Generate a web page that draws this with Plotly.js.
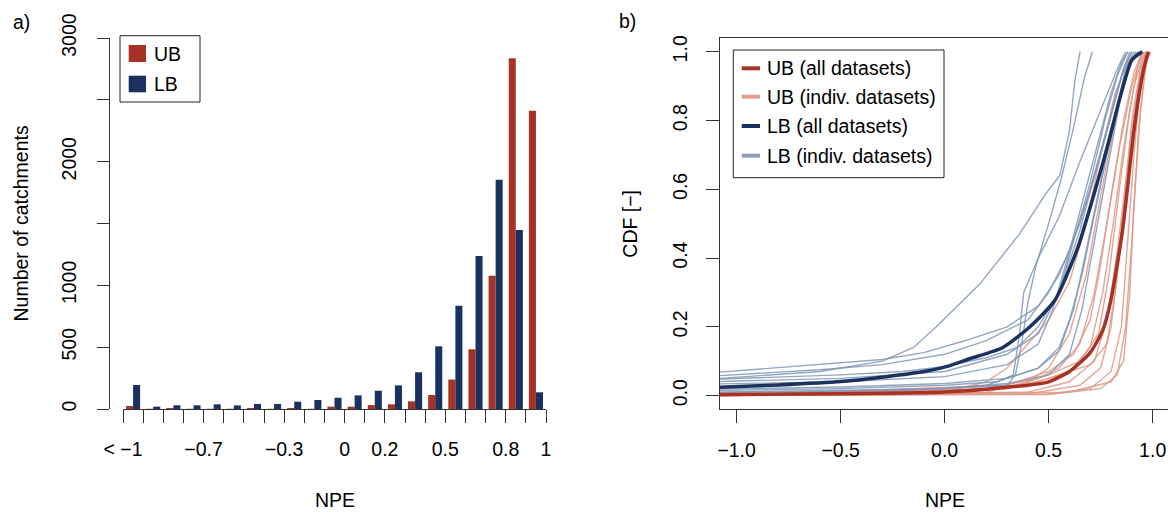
<!DOCTYPE html>
<html><head><meta charset="utf-8">
<script src="https://cdn.plot.ly/plotly-3.0.1.min.js"></script>
<style>html,body{margin:0;padding:0;overflow:hidden;background:#fff}#chart{width:1172px;height:512px}</style>
</head><body><div id="chart"></div>
<script>
// ---------- Panel a: histogram of NPE ----------
const binCenters = [-1.05,-0.95,-0.85,-0.75,-0.65,-0.55,-0.45,-0.35,-0.25,-0.15,-0.05,0.05,0.15,0.25,0.35,0.45,0.55,0.65,0.75,0.85,0.95];
const ubCounts = [24,2,8,2,2,2,8,2,8,2,19,19,32,38,62,113,238,483,1078,2836,2412];
const lbCounts = [194,19,30,30,38,29,41,41,59,73,91,110,148,191,297,507,835,1237,1854,1447,135];
const histTickPos = [-1.1,-1.0,-0.9,-0.8,-0.7,-0.6,-0.5,-0.4,-0.3,-0.2,-0.1,0.0,0.1,0.2,0.3,0.4,0.5,0.6,0.7,0.8,0.9,1.0];
const histTickLabels = ['< \u22121','','','','\u22120.7','','','','\u22120.3','','','0','','0.2','','','0.5','','','0.8','','1'];
const countTicks = [0,500,1000,1500,2000,2500,3000];
const countTickLabels = ['0','500','1000','','2000','','3000'];

// ---------- Panel b: CDF curves (x = NPE, y = CDF) ----------
const ubAllX = [-1.08,-0.5,0.0,0.2,0.3,0.4,0.5,0.6,0.7,0.76,0.8,0.855,0.91,0.947,0.97,0.98];
const ubAllY = [0.003,0.005,0.01,0.018,0.024,0.03,0.04,0.07,0.125,0.19,0.28,0.48,0.77,0.92,0.98,1.0];
const lbAllX = [-1.08,-0.8,-0.5,-0.28,-0.1,0.026,0.12,0.28,0.41,0.53,0.64,0.72,0.785,0.84,0.9,0.95];
const lbAllY = [0.024,0.031,0.041,0.055,0.07,0.087,0.107,0.14,0.2,0.277,0.43,0.59,0.73,0.86,0.976,1.0];

const lbIndivX = [
  [-1.08,-0.6,-0.3,-0.15,-0.04,0.17,0.36,0.49,0.554,0.6,0.627,0.651],
  [-1.08,-0.5,0.0,0.3,0.34,0.37,0.4,0.44,0.5,0.56,0.62,0.67,0.71],
  [-1.08,-0.6,-0.3,-0.1,0.1,0.3,0.45,0.55,0.65,0.75,0.82,0.86,0.9],
  [-1.08,-0.6,-0.3,0.0,0.2,0.4,0.5,0.6,0.7,0.78,0.85,0.89],
  [-1.08,-0.5,-0.2,0.0,0.2,0.35,0.45,0.55,0.65,0.73,0.8,0.86,0.9],
  [-1.08,-0.5,0.0,0.3,0.45,0.55,0.62,0.7,0.77,0.83,0.88],
  [-1.08,-0.5,0.0,0.3,0.45,0.52,0.6,0.67,0.74,0.8,0.85,0.88],
  [-1.08,-0.5,0.0,0.3,0.45,0.55,0.62,0.68,0.75,0.82,0.87,0.91],
  [-1.08,-0.5,0.0,0.25,0.33,0.36,0.38,0.45,0.55,0.65,0.75,0.83,0.87],
  [-1.08,-0.5,0.0,0.3,0.5,0.6,0.66,0.72,0.78,0.84,0.89,0.92],
  [-1.08,-0.3,0.2,0.45,0.55,0.6,0.66,0.72,0.78,0.85,0.9,0.93]
];
const lbIndivY = [
  [0.05,0.07,0.1,0.14,0.2,0.325,0.47,0.59,0.64,0.77,0.92,1.0],
  [0.01,0.015,0.02,0.03,0.06,0.15,0.27,0.38,0.5,0.63,0.78,0.92,1.0],
  [0.068,0.09,0.105,0.125,0.16,0.2,0.26,0.35,0.5,0.7,0.86,0.95,1.0],
  [0.058,0.075,0.09,0.12,0.16,0.22,0.3,0.42,0.6,0.78,0.93,1.0],
  [0.048,0.06,0.07,0.085,0.11,0.14,0.2,0.3,0.48,0.66,0.82,0.95,1.0],
  [0.041,0.05,0.07,0.12,0.18,0.3,0.45,0.62,0.8,0.93,1.0],
  [0.034,0.04,0.055,0.09,0.15,0.25,0.42,0.58,0.74,0.88,0.97,1.0],
  [0.019,0.025,0.035,0.05,0.08,0.13,0.25,0.42,0.62,0.82,0.95,1.0],
  [0.015,0.02,0.03,0.04,0.06,0.18,0.3,0.4,0.52,0.68,0.83,0.95,1.0],
  [0.01,0.012,0.02,0.035,0.06,0.12,0.25,0.45,0.65,0.85,0.97,1.0],
  [0.005,0.01,0.03,0.08,0.14,0.22,0.35,0.52,0.7,0.88,0.98,1.0]
];
const ubIndivX = [
  [-1.08,0.0,0.2,0.3,0.4,0.5,0.6,0.68,0.75,0.82,0.88,0.93],
  [-1.08,0.2,0.4,0.5,0.6,0.68,0.75,0.82,0.88,0.93],
  [-1.08,0.2,0.45,0.55,0.65,0.72,0.78,0.84,0.9,0.95],
  [-1.08,0.3,0.5,0.6,0.7,0.76,0.81,0.86,0.91,0.95,0.97],
  [-1.08,0.4,0.6,0.72,0.78,0.83,0.87,0.91,0.95,0.97],
  [-1.08,0.4,0.65,0.75,0.8,0.85,0.89,0.93,0.96,0.98],
  [-1.08,0.5,0.7,0.8,0.85,0.88,0.91,0.94,0.97],
  [-1.08,0.5,0.75,0.83,0.87,0.9,0.93,0.96,0.98],
  [-1.08,0.3,0.5,0.65,0.74,0.79,0.84,0.89,0.93,0.96],
  [-1.08,0.4,0.55,0.7,0.78,0.82,0.86,0.9,0.94,0.97],
  [-1.08,0.6,0.8,0.86,0.89,0.91,0.94,0.97,0.99],
  [-1.08,0.3,0.5,0.62,0.7,0.75,0.8,0.86,0.91,0.95]
];
const ubIndivY = [
  [0.0,0.01,0.04,0.08,0.15,0.22,0.33,0.5,0.7,0.88,0.97,1.0],
  [0.0,0.01,0.04,0.08,0.18,0.35,0.58,0.8,0.95,1.0],
  [0.002,0.02,0.05,0.08,0.15,0.3,0.5,0.72,0.9,1.0],
  [0.0,0.02,0.05,0.07,0.14,0.3,0.5,0.72,0.9,0.98,1.0],
  [0.0,0.01,0.04,0.1,0.22,0.42,0.62,0.82,0.96,1.0],
  [0.0,0.005,0.03,0.08,0.2,0.45,0.7,0.9,0.98,1.0],
  [0.0,0.005,0.02,0.07,0.2,0.45,0.7,0.9,1.0],
  [0.0,0.003,0.02,0.06,0.2,0.45,0.75,0.95,1.0],
  [0.0,0.02,0.06,0.1,0.18,0.35,0.6,0.83,0.96,1.0],
  [0.0,0.03,0.06,0.09,0.15,0.3,0.55,0.8,0.95,1.0],
  [0.0,0.01,0.04,0.1,0.3,0.55,0.82,0.97,1.0],
  [0.0,0.03,0.07,0.12,0.22,0.38,0.58,0.8,0.94,1.0]
];
const cdfXTicks = [-1,-0.5,0,0.5,1];
const cdfXLabels = ['\u22121.0','\u22120.5','0.0','0.5','1.0'];
const cdfYTicks = [0,0.2,0.4,0.6,0.8,1.0];
const cdfYLabels = ['0.0','0.2','0.4','0.6','0.8','1.0'];

// ---------- colours ----------
const RED = '#A83226', NAVY = '#1B3260';
const RED_LIGHT = 'rgba(222,150,132,0.85)', NAVY_LIGHT = 'rgba(128,150,182,0.85)';
const RED_LIGHT_KEY = '#DDA090', NAVY_LIGHT_KEY = '#8EA0BE';

const W = 1172, H = 512;
const fx = v => v / W, fy = v => 1 - v / H;
const AX = '#333';
const FONT = 'Liberation Sans, Arial, Helvetica, sans-serif';
const FS = 19.5;

const traces = [
  {type:'bar', x:binCenters, y:ubCounts, name:'UB', marker:{color:RED, line:{width:0}}, xaxis:'x', yaxis:'y', hoverinfo:'skip'},
  {type:'bar', x:binCenters, y:lbCounts, name:'LB', marker:{color:NAVY, line:{width:0}}, xaxis:'x', yaxis:'y', hoverinfo:'skip'}
];
ubIndivX.forEach((xs, i) => traces.push({type:'scatter', mode:'lines', x:xs, y:ubIndivY[i], line:{color:RED_LIGHT, width:1.4}, xaxis:'x2', yaxis:'y2', hoverinfo:'skip'}));
lbIndivX.forEach((xs, i) => traces.push({type:'scatter', mode:'lines', x:xs, y:lbIndivY[i], line:{color:NAVY_LIGHT, width:1.4}, xaxis:'x2', yaxis:'y2', hoverinfo:'skip'}));
traces.push({type:'scatter', mode:'lines', x:ubAllX, y:ubAllY, line:{color:RED, width:3.5, shape:'spline', smoothing:0.6}, xaxis:'x2', yaxis:'y2', hoverinfo:'skip'});
traces.push({type:'scatter', mode:'lines', x:lbAllX, y:lbAllY, line:{color:NAVY, width:3.5, shape:'spline', smoothing:0.6}, xaxis:'x2', yaxis:'y2', hoverinfo:'skip'});

const axBase = {showgrid:false, zeroline:false, showline:true, linecolor:AX, linewidth:1, ticks:'outside', tickcolor:AX, tickwidth:1, fixedrange:true, tickfont:{family:FONT, size:FS, color:'#000'}};

const shapes = [
  // legend a
  {type:'rect', xref:'paper', yref:'paper', x0:fx(120), x1:fx(200), y0:fy(102), y1:fy(35.7), line:{color:'#222', width:1}},
  {type:'rect', xref:'paper', yref:'paper', x0:fx(128.7), x1:fx(146), y0:fy(62), y1:fy(45), line:{width:0}, fillcolor:RED},
  {type:'rect', xref:'paper', yref:'paper', x0:fx(128.7), x1:fx(146), y0:fy(92.3), y1:fy(75.7), line:{width:0}, fillcolor:NAVY},
  // legend b
  {type:'rect', xref:'paper', yref:'paper', x0:fx(733.3), x1:fx(944), y0:fy(177.7), y1:fy(50), line:{color:'#222', width:1}},
  {type:'line', xref:'paper', yref:'paper', x0:fx(741.7), x1:fx(760), y0:fy(68.3), y1:fy(68.3), line:{color:RED, width:4}},
  {type:'line', xref:'paper', yref:'paper', x0:fx(741.7), x1:fx(760), y0:fy(96.7), y1:fy(96.7), line:{color:RED_LIGHT_KEY, width:4}},
  {type:'line', xref:'paper', yref:'paper', x0:fx(741.7), x1:fx(760), y0:fy(126), y1:fy(126), line:{color:NAVY, width:4}},
  {type:'line', xref:'paper', yref:'paper', x0:fx(741.7), x1:fx(760), y0:fy(155.7), y1:fy(155.7), line:{color:NAVY_LIGHT_KEY, width:4}}
];

const ann = (text, x, y, opts) => Object.assign({text, x:fx(x), y:fy(y), xref:'paper', yref:'paper', showarrow:false, xanchor:'center', yanchor:'middle', font:{family:FONT, size:FS, color:'#000'}}, opts || {});
const annotations = [
  ann('a)', 21, 22),
  ann('b)', 627.5, 21),
  ann('Number of catchments', 20, 223.5, {textangle:-90}),
  ann('NPE', 334.5, 500),
  ann('CDF [\u2212]', 630, 223.7, {textangle:-90}),
  ann('NPE', 944.6, 500),
  ann('UB', 152, 53.5, {xanchor:'left'}),
  ann('LB', 152, 84, {xanchor:'left'}),
  ann('UB (all datasets)', 765, 68.3, {xanchor:'left'}),
  ann('UB (indiv. datasets)', 765, 96.7, {xanchor:'left'}),
  ann('LB (all datasets)', 765, 126, {xanchor:'left'}),
  ann('LB (indiv. datasets)', 765, 155.7, {xanchor:'left'})
];

const layout = {
  width:W, height:H, margin:{l:0, r:0, t:0, b:0},
  paper_bgcolor:'#fff', plot_bgcolor:'#fff',
  font:{family:FONT, size:FS, color:'#000'},
  showlegend:false, barmode:'group', bargap:0.3, bargroupgap:0,
  xaxis:Object.assign({}, axBase, {domain:[fx(123), fx(546)], range:[-1.1, 1.0], anchor:'y', tickmode:'array', tickvals:histTickPos, ticktext:histTickLabels, ticklen:13, tickangle:0, ticklabelstandoff:10}),
  yaxis:Object.assign({}, axBase, {domain:[fy(409), fy(38)], range:[0, 3000], anchor:'free', position:fx(109), tickmode:'array', tickvals:countTicks, ticktext:countTickLabels, ticklen:12, tickangle:-90, ticklabelstandoff:13}),
  xaxis2:Object.assign({}, axBase, {domain:[fx(720), fx(1169.3)], range:[-1.08, 1.08], anchor:'y2', mirror:true, tickmode:'array', tickvals:cdfXTicks, ticktext:cdfXLabels, ticklen:13, tickangle:0, ticklabelstandoff:10}),
  yaxis2:Object.assign({}, axBase, {domain:[fy(409.3), fy(38)], range:[-0.04, 1.04], anchor:'x2', mirror:true, tickmode:'array', tickvals:cdfYTicks, ticktext:cdfYLabels, ticklen:13, tickangle:-90, ticklabelstandoff:11}),
  shapes, annotations
};

Plotly.newPlot('chart', traces, layout, {staticPlot:true, displayModeBar:false});
</script></body></html>
